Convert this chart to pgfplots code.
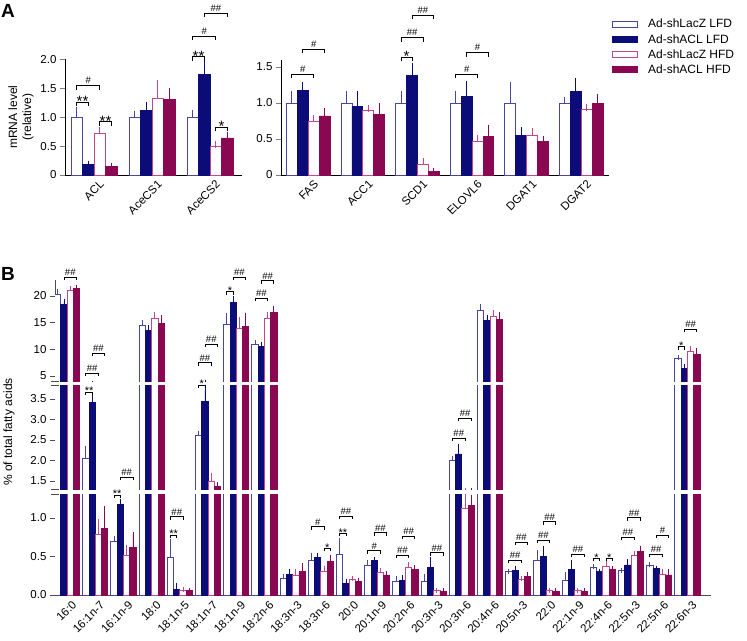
\documentclass[border=0pt]{standalone}
\usepackage{fontspec}
\setmainfont{Liberation Sans}
\usepackage{pgfplots}
\usepackage{pgfplotstable}
\pgfplotsset{compat=1.18}
\definecolor{navy}{RGB}{12,12,120}
\definecolor{maroon}{RGB}{138,8,82}
\definecolor{blueout}{RGB}{70,70,165}
\definecolor{pinkout}{RGB}{195,70,140}
\def\capsize{3.5pt}
\pgfplotsset{
  sA/.style={fill=white, draw=blueout, line width=0.9pt,
    legend image code/.code={\draw[fill=white,draw=blueout,line width=0.9pt] (0pt,-3pt) rectangle (25pt,3pt); \path (33pt,0pt);},
    error bars/.cd, y dir=plus, y explicit,
    error bar style={color=blueout, line width=0.9pt},
    error mark options={color=blueout, mark size=\capsize, line width=0.9pt}},
  sB/.style={fill=navy, draw=navy, line width=0.9pt,
    legend image code/.code={\draw[fill=navy,draw=navy,line width=0.9pt] (0pt,-3pt) rectangle (25pt,3pt); \path (33pt,0pt);},
    error bars/.cd, y dir=plus, y explicit,
    error bar style={color=navy, line width=0.9pt},
    error mark options={color=navy, mark size=\capsize, line width=0.9pt}},
  sC/.style={fill=white, draw=pinkout, line width=0.9pt,
    legend image code/.code={\draw[fill=white,draw=pinkout,line width=0.9pt] (0pt,-3pt) rectangle (25pt,3pt); \path (33pt,0pt);},
    error bars/.cd, y dir=plus, y explicit,
    error bar style={color=pinkout, line width=0.9pt},
    error mark options={color=pinkout, mark size=\capsize, line width=0.9pt}},
  sD/.style={fill=maroon, draw=maroon, line width=0.9pt,
    legend image code/.code={\draw[fill=maroon,draw=maroon,line width=0.9pt] (0pt,-3pt) rectangle (25pt,3pt); \path (33pt,0pt);},
    error bars/.cd, y dir=plus, y explicit,
    error bar style={color=maroon, line width=0.9pt},
    error mark options={color=maroon, mark size=\capsize, line width=0.9pt}},
  base/.style={scale only axis, ybar=0pt, enlargelimits=false,
    axis line style={line width=0.9pt}, ytick style={line width=0.9pt},
    xtick style={draw=none}, tick align=outside, major tick length=5pt,
    /pgf/number format/assume math mode=true,
    tick label style={font=\fontsize{11.5}{12}\selectfont}},
}
\newcommand{\fourbars}[1]{%
  \addplot[sA] table[x=x,y=a,y error=ea]{#1};
  \addplot[sB] table[x=x,y=b,y error=eb]{#1};
  \addplot[sC] table[x=x,y=c,y error=ec]{#1};
  \addplot[sD] table[x=x,y=d,y error=ed]{#1};
}
\pgfplotstableread{
x a ea b eb c ec d ed
0 1.00 0.11 0.18 0.01 0.71 0.06 0.145 0.005
1 1.00 0.05 1.12 0.09 1.33 0.26 1.30 0.14
2 1.00 0.07 1.74 0.19 0.50 0.03 0.64 0.04
}\dataAL
\pgfplotstableread{
x a ea b eb c ec d ed
0 1.00 0.12 1.17 0.07 0.74 0.05 0.82 0.06
1 1.00 0.125 0.95 0.175 0.90 0.025 0.84 0.11
2 1.00 0.12 1.38 0.13 0.15 0.035 0.05 0.005
3 1.00 0.125 1.09 0.17 0.46 0.05 0.53 0.12
4 1.00 0.25 0.555 0.065 0.555 0.055 0.46 0.04
5 1.00 0.04 1.16 0.14 0.91 0.03 0.99 0.09
}\dataAR
\pgfplotstableread{
x a ea b eb c ec d ed
0 20.2 0.6 18.5 0.5 21.1 0.3 21.4 0.15
1 2.04 0.25 3.42 0.15 0.79 0.17 0.87 0.25
2 0.69 0.05 1.17 0.05 0.51 0.11 0.62 0.17
3 14.4 0.6 13.6 0.5 15.7 0.9 14.8 1.2
4 0.49 0.2 0.078 0.04 0.065 0.005 0.057 0.003
5 2.61 0.06 3.44 0.28 1.50 0.14 1.36 0.06
6 14.6 1.7 18.8 0.7 14.0 1.6 14.3 2.1
7 11.0 0.3 10.6 0.3 15.7 0.9 17.0 0.7
8 0.22 0.02 0.27 0.03 0.26 0.04 0.30 0.08
9 0.455 0.06 0.485 0.03 0.30 0.05 0.43 0.06
10 0.53 0.18 0.15 0.02 0.20 0.02 0.18 0.01
11 0.39 0.03 0.445 0.02 0.29 0.03 0.26 0.02
12 0.18 0.04 0.185 0.04 0.36 0.03 0.33 0.03
13 0.18 0.06 0.355 0.1 0.056 0.005 0.05 0.005
14 2.01 0.05 2.16 0.18 1.13 0.15 1.165 0.1
15 17.25 0.8 15.5 0.5 16.25 0.6 15.6 1.0
16 0.30 0.01 0.32 0.02 0.20 0.02 0.24 0.02
17 0.455 0.1 0.50 0.1 0.056 0.005 0.05 0.005
18 0.19 0.07 0.33 0.09 0.056 0.005 0.05 0.005
19 0.36 0.01 0.30 0.01 0.377 0.03 0.33 0.02
20 0.316 0.005 0.39 0.04 0.51 0.03 0.57 0.04
21 0.39 0.005 0.34 0.01 0.27 0.04 0.26 0.05
22 8.3 0.1 6.5 0.2 9.6 0.5 9.1 0.6
}\dataB
% bracket: x1, x2, y, leg, baseline offset, text
\newcommand{\brk}[6]{%
  \draw[line width=0.9pt] ({#1},{#3+#4}) -- ({#1},{#3}) -- ({#2},{#3}) -- ({#2},{#3+#4});
  \node[anchor=base, inner sep=0pt] at ({(#1+#2)/2},{#3-#5}) {#6};}
\newcommand{\xL}[2]{(65+58.03*(#1+0.5+(#2-1.5)*0.198))}
\newcommand{\xR}[2]{(281+54.6*(#1+0.5+(#2-1.5)*0.2))}
\newcommand{\xB}[2]{(55+28.198*(#1+0.43+(#2-1.5)*0.223))}
\def\stA{\fontsize{15}{15}\selectfont}
\def\stB{\fontsize{11}{11}\selectfont}
\def\hs{\fontsize{9.5}{10}\selectfont}
\newcommand{\LH}[5]{\brk{\xL{#1}{#2}}{\xL{#1}{#3}}{#4}{4}{2}{\hs #5}}
\newcommand{\LS}[5]{\brk{\xL{#1}{#2}}{\xL{#1}{#3}}{#4}{4}{-4.3}{\stA #5}}
\newcommand{\RH}[5]{\brk{\xR{#1}{#2}}{\xR{#1}{#3}}{#4}{4}{2}{\hs #5}}
\newcommand{\RS}[5]{\brk{\xR{#1}{#2}}{\xR{#1}{#3}}{#4}{4}{-4.3}{\stA #5}}
\newcommand{\BH}[5]{\brk{\xB{#1}{#2}}{\xB{#1}{#3}}{#4}{3}{1.5}{\hs #5}}
\newcommand{\BS}[5]{\brk{\xB{#1}{#2}}{\xB{#1}{#3}}{#4}{3}{-2.8}{\stB #5}}
\begin{document}
\begin{tikzpicture}
\useasboundingbox (0pt,0pt) rectangle (747pt,-640pt);
% ---------- Panel A left
\begin{axis}[base, at={(65pt,-175pt)}, anchor=south west,
  width=177pt, height=115.7pt, xmin=-0.5, xmax=2.55, ymin=0, ymax=2.0,
  bar width=0.198, axis lines*=left,
  ytick={0,0.5,1,1.5,2}, yticklabels={0,0.5,1.0,1.5,2.0},
  xtick={0,1,2}, xticklabels={ACL,AceCS1,AceCS2},
  xticklabel style={rotate=45, anchor=north east, inner sep=1pt, xshift=5pt, yshift=-2pt},
  ylabel={mRNA level\\(relative)},
  ylabel style={align=center, font=\fontsize{12}{14}\selectfont}]
\fourbars{\dataAL}
\end{axis}
% ---------- Panel A right
\begin{axis}[base, at={(281pt,-175pt)}, anchor=south west,
  width=327.6pt, height=115.2pt, xmin=-0.5, xmax=5.5, ymin=0, ymax=1.6,
  bar width=0.2, axis lines*=left,
  ytick={0,0.5,1,1.5}, yticklabels={0,0.5,1.0,1.5},
  xtick={0,...,5}, xticklabels={FAS,ACC1,SCD1,ELOVL6,DGAT1,DGAT2},
  xticklabel style={rotate=45, anchor=north east, inner sep=1pt, xshift=5pt, yshift=-2pt},
  legend style={at={(1.0104,1.3715)}, anchor=north west, draw=none, fill=none,
    font=\fontsize{12}{14}\selectfont, inner sep=0pt, row sep=1pt},
  legend cell align=left]
\fourbars{\dataAR}
\legend{Ad-shLacZ LFD, Ad-shACL LFD, Ad-shLacZ HFD, Ad-shACL HFD}
\end{axis}
\def\capsize{2.5pt}
% ---------- Panel B bottom
\begin{axis}[base, at={(55pt,-595pt)}, anchor=south west,
  width=655.6pt, height=100.1pt, xmin=-0.43, xmax=22.82, ymin=0, ymax=1.3,
  bar width=0.223, axis lines*=left,
  axis line style={line width=1pt, black!70}, ytick style={line width=1pt, black!70},
  ytick={0,0.5,1.0},
  yticklabel style={/pgf/number format/.cd, fixed, fixed zerofill, precision=1},
  xtick={0,...,22},
  xticklabels={16:0,16:1n-7,16:1n-9,18:0,18:1n-5,18:1n-7,18:1n-9,18:2n-6,18:3n-3,18:3n-6,20:0,20:1n-9,20:2n-6,20:3n-3,20:3n-6,20:4n-6,20:5n-3,22:0,22:1n-9,22:4n-6,22:5n-3,22:5n-6,22:6n-3},
  xticklabel style={rotate=45, anchor=north east, inner sep=1pt, xshift=4pt, yshift=-2pt}]
\fourbars{\dataB}
\end{axis}
% ---------- Panel B middle (extends 3pt below its visible bottom, masked)
\begin{axis}[base, at={(55pt,-492.2pt)}, anchor=south west,
  width=655.6pt, height=106.3pt, xmin=-0.43, xmax=22.82, ymin=1.227, ymax=3.82,
  bar width=0.223, axis x line=none, axis y line*=left,
  axis line style={line width=1pt, black!70}, ytick style={line width=1pt, black!70},
  ytick={1.5,2.0,2.5,3.0,3.5},
  yticklabel style={/pgf/number format/.cd, fixed, fixed zerofill, precision=1}]
\fourbars{\dataB}
\end{axis}
% ---------- Panel B top (extends 3pt below its visible bottom, masked)
\begin{axis}[base, at={(55pt,-384.85pt)}, anchor=south west,
  width=655.6pt, height=104.85pt, xmin=-0.43, xmax=22.82, ymin=3.34, ymax=23,
  bar width=0.223, axis x line=none, axis y line*=left,
  axis line style={line width=1pt, black!70}, ytick style={line width=1pt, black!70},
  ytick={5,10,15,20}]
\fourbars{\dataB}
\end{axis}
% ---------- breaks and annotations
\begin{scope}[x=1pt,y=-1pt]
\fill[white] (48,382.4) rectangle (716,385.45);
\fill[white] (48,489.7) rectangle (716,494.4);
\draw[black!70, line width=1pt] (51,381.9) -- (59,381.9) (51,385.9) -- (59,385.9)
  (51,489.2) -- (59,489.2) (51,494.9) -- (59,494.9);
\node[anchor=north west, inner sep=0pt, font=\bfseries\fontsize{19}{19}\selectfont] at (1,4) {A};
\node[anchor=north west, inner sep=0pt, font=\bfseries\fontsize{19}{19}\selectfont] at (1,267) {B};
\node[rotate=90, font=\fontsize{12}{14}\selectfont] at (9,432) {\% of total fatty acids};
\LS{0}{0}{1}{102}{**}
\LH{0}{0}{2}{85.5}{\#}
\LS{0}{2}{3}{121.7}{**}
\LS{2}{0}{1}{56.7}{**}
\LH{2}{0}{2}{36}{\#}
\LH{2}{1}{3}{13.3}{\#\#}
\LS{2}{2}{3}{127.3}{*}
\RH{0}{0}{2}{74}{\#}
\RH{0}{1}{3}{49}{\#}
\RS{2}{0}{1}{57.3}{*}
\RH{2}{0}{2}{37.7}{\#\#}
\RH{2}{1}{3}{15}{\#\#}
\RH{3}{0}{2}{74.3}{\#}
\RH{3}{1}{3}{52.7}{\#}
\BH{0}{1}{3}{277}{\#\#}
\BS{1}{0}{1}{392}{**}
\BH{1}{0}{2}{373}{\#\#}
\BH{1}{1}{3}{353}{\#\#}
\BS{2}{0}{1}{495}{**}
\BH{2}{1}{3}{477}{\#\#}
\BS{4}{0}{1}{535}{**}
\BH{4}{0}{2}{516.7}{\#\#}
\BS{5}{0}{1}{385}{*}
\BH{5}{0}{2}{362.7}{\#\#}
\BH{5}{1}{3}{344}{\#\#}
\BS{6}{0}{1}{291.7}{*}
\BH{6}{1}{3}{277.3}{\#\#}
\BH{7}{0}{2}{298.3}{\#\#}
\BH{7}{1}{3}{280.7}{\#\#}
\BH{9}{0}{2}{526.7}{\#}
\BS{9}{2}{3}{548.3}{*}
\BS{10}{0}{1}{533.3}{**}
\BH{10}{0}{2}{516}{\#\#}
\BH{11}{0}{2}{550.7}{\#}
\BH{11}{1}{3}{532.7}{\#\#}
\BH{12}{0}{2}{555}{\#\#}
\BH{12}{1}{3}{536}{\#\#}
\BH{13}{1}{3}{552.7}{\#\#}
\BH{14}{0}{2}{438.3}{\#\#}
\BH{14}{1}{3}{418.3}{\#\#}
\BH{16}{0}{2}{560}{\#\#}
\BH{16}{1}{3}{542}{\#\#}
\BH{17}{0}{2}{540}{\#\#}
\BH{17}{1}{3}{521.7}{\#\#}
\BH{18}{1}{3}{554.3}{\#\#}
\BS{19}{0}{1}{558.3}{*}
\BS{19}{2}{3}{558.3}{*}
\BH{20}{0}{2}{537.3}{\#\#}
\BH{20}{1}{3}{517.7}{\#\#}
\BH{21}{0}{2}{554}{\#\#}
\BH{21}{1}{3}{535}{\#}
\BS{22}{0}{1}{346.7}{*}
\BH{22}{1}{3}{329.3}{\#\#}
\end{scope}
\end{tikzpicture}
\end{document}
